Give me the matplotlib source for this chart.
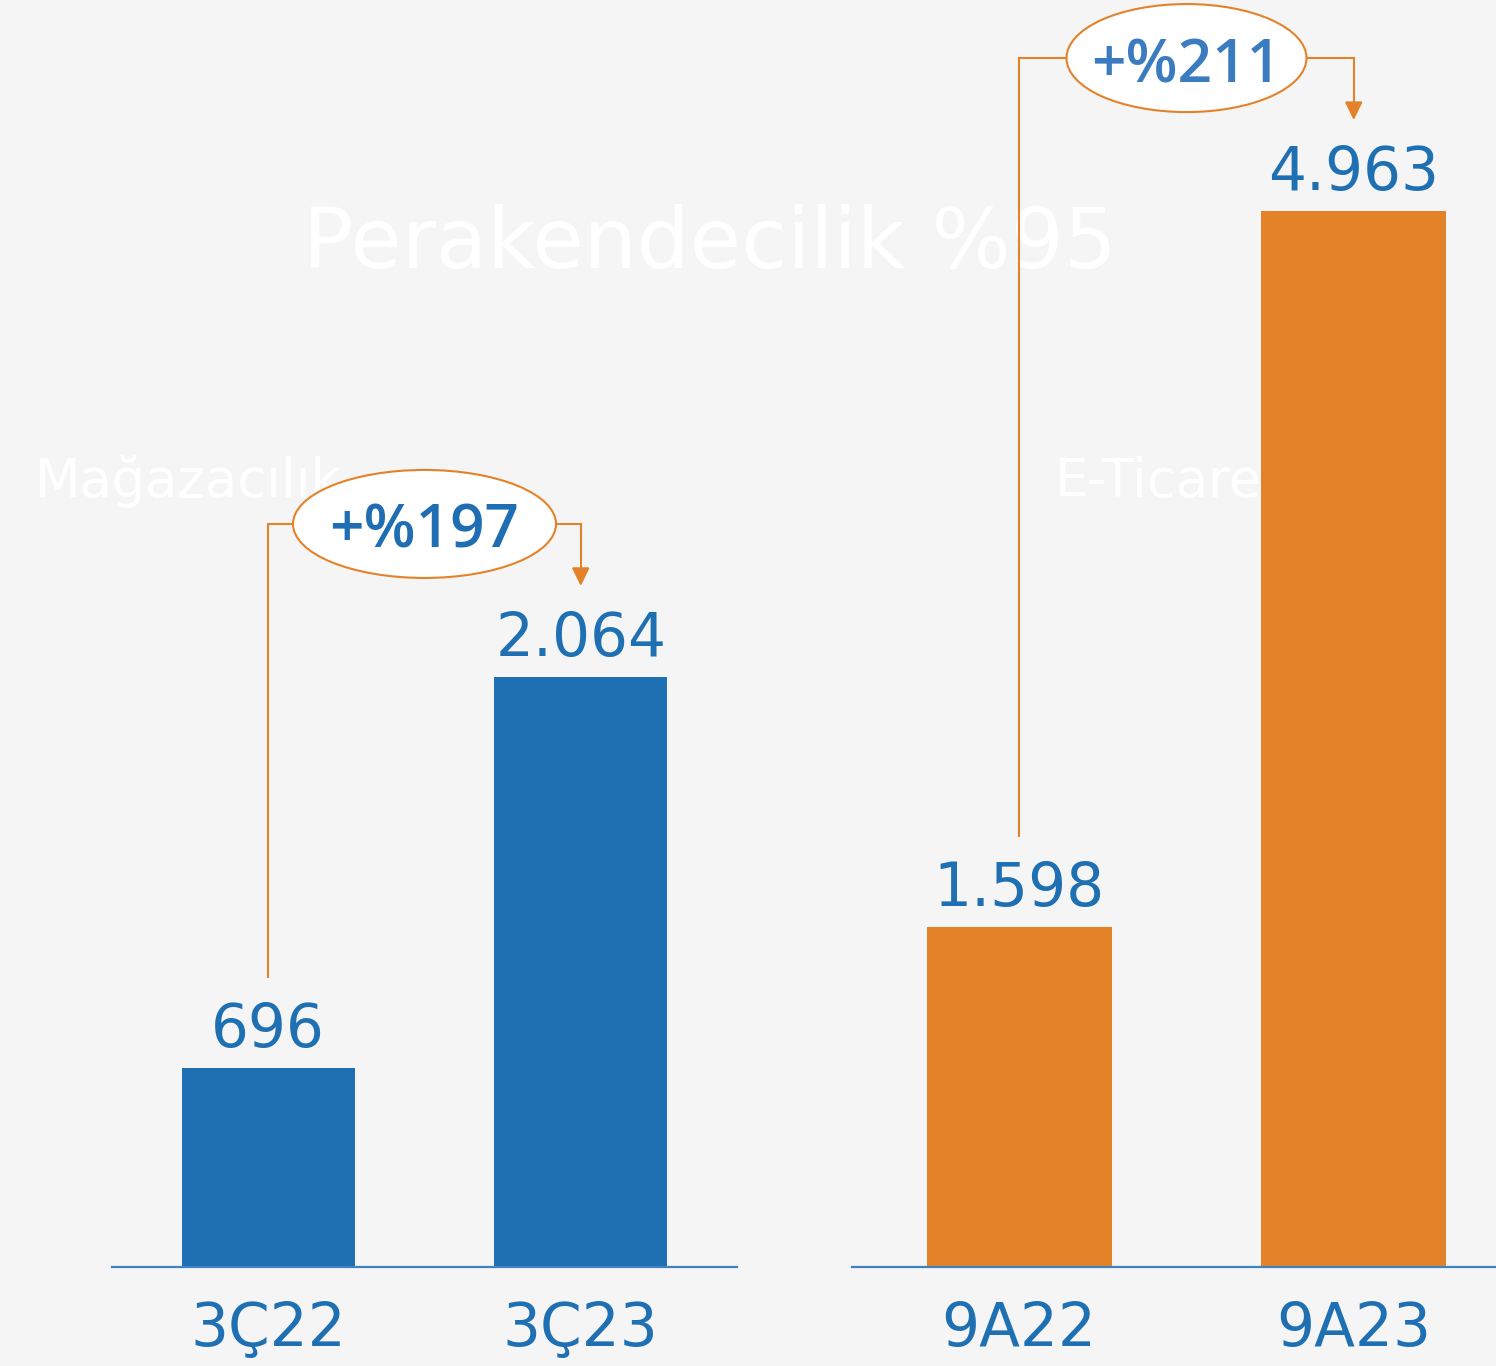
import matplotlib
matplotlib.use('Agg')
from matplotlib import pyplot as plt
from matplotlib.patches import Ellipse

# Values
store_labels = ['3Ç22', '3Ç23']
store_values = [696, 2064]
store_growth = '+%197'

online_labels = ['9A22', '9A23']
online_values = [1598, 4963]
online_growth = '+%211'

title_text = 'Perakendecilik %95'
store_name = 'Mağazacılık'
online_name = 'E-Ticaret'

BG = '#f5f5f5'
BLUE = '#1f70b3'
ORANGE = '#e4822a'
AXIS_BLUE = '#3f82c2'

W, H = 1496, 1366
fig = plt.figure(figsize=(W / 100, H / 100), dpi=100)
fig.patch.set_facecolor(BG)

# faint white headings behind everything
fig.text(710 / W, 1 - 268 / H, title_text, ha='center', va='baseline',
         fontsize=60, color='white', zorder=-1)
fig.text(35 / W, 1 - 497 / H, store_name, ha='left', va='baseline',
         fontsize=38, color='white', zorder=-1)
fig.text(1055 / W, 1 - 497 / H, online_name, ha='left', va='baseline',
         fontsize=38, color='white', zorder=-1)


def fmt(v):
    return f'{v:,}'.replace(',', '.')


def panel(rect, ytop, labels, values, color, growth, growth_color, ell_w):
    ax = fig.add_axes(rect)
    ax.set_facecolor('none')
    ax.set_xlim(-0.5, 1.5)
    ax.set_ylim(0, ytop)
    x = [0, 1]
    ax.bar(x, values, width=0.553, color=color, zorder=2)
    ax.axhline(0, color=AXIS_BLUE, lw=1.6, zorder=3, clip_on=False)
    for s in ax.spines.values():
        s.set_visible(False)
    ax.set_yticks([])
    ax.set_xticks(x, labels)
    ax.tick_params(axis='x', length=0, pad=24, labelsize=43, labelcolor=BLUE)

    for xi, v in zip(x, values):
        ax.annotate(fmt(v), (xi, v), xytext=(0, 15), textcoords='offset points',
                    ha='center', va='baseline', fontsize=43, color=BLUE, zorder=4)

    # pixel -> data helpers
    ppx = ax.bbox.width / 2.0
    ppy = ax.bbox.height / ytop
    y_start = values[0] + 91 / ppy
    y_level = max(values) + 153 / ppy
    y_tip = values[1] + 91 / ppy
    ax.plot([0, 0, 1, 1], [y_start, y_level, y_level, y_tip + 14 / ppy],
            color=ORANGE, lw=1.5, zorder=4, clip_on=False, solid_joinstyle='miter')
    ax.annotate('', xy=(1, y_tip), xytext=(1, y_tip + 16 / ppy),
                arrowprops=dict(arrowstyle='-|>,head_length=0.55,head_width=0.27',
                                color=ORANGE, lw=1.5, mutation_scale=20,
                                shrinkA=0, shrinkB=0), zorder=4)
    ax.add_patch(Ellipse((0.5, y_level), ell_w / ppx, 108 / ppy, facecolor='white',
                         edgecolor=ORANGE, lw=1.5, zorder=5, clip_on=False))
    ax.text(0.5, y_level - 24 / ppy, growth, ha='center', va='baseline',
            fontsize=43.5, fontweight='semibold', family='Open Sans',
            color=growth_color, zorder=6)
    return ax


panel([112 / W, 99 / H, 625 / W, 1267 / H], 4432, store_labels, store_values,
      BLUE, store_growth, '#1f6eb4', 263)
panel([852 / W, 99 / H, 669 / W, 1267 / H], 5955, online_labels, online_values,
      ORANGE, online_growth, '#3b7bbf', 240)

plt.savefig('out.png', dpi=100, facecolor=BG)
